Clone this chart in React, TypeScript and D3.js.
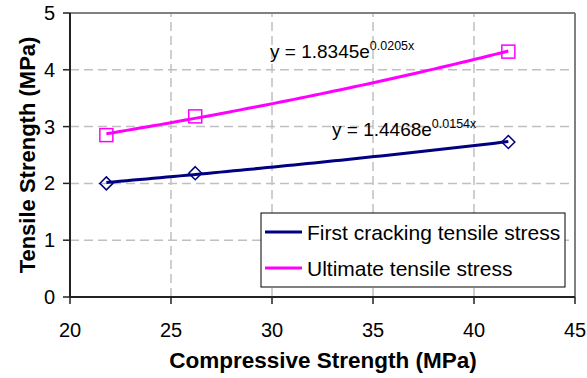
import React from "react";
import * as d3 from "d3";

const compressive = [21.8, 26.2, 41.7];
const firstCracking = [2.0, 2.18, 2.73];
const ultimate = [2.85, 3.18, 4.32];

const seriesNames = ["First cracking tensile stress", "Ultimate tensile stress"];
const seriesColors = ["#000080", "#ff00ff"];
const equations = [
  { base: "y = 1.4468e", exp: "0.0154x" },
  { base: "y = 1.8345e", exp: "0.0205x" },
];

const xTicks = [20, 25, 30, 35, 40, 45];
const yTicks = [0, 1, 2, 3, 4, 5];

const W = 587;
const H = 378;
const FONT = "Arial, 'Liberation Sans', sans-serif";

// exponential least squares fit, as a spreadsheet trendline does it
function expFit(xs: number[], ys: number[]) {
  const ly = ys.map((v) => Math.log(v));
  const mx = d3.mean(xs) as number;
  const my = d3.mean(ly) as number;
  let sxy = 0;
  let sxx = 0;
  xs.forEach((x, i) => {
    sxy += (x - mx) * (ly[i] - my);
    sxx += (x - mx) * (x - mx);
  });
  const b = sxy / sxx;
  const a = Math.exp(my - b * mx);
  return (x: number) => a * Math.exp(b * x);
}

export default function App() {
  const x = d3.scaleLinear().domain([20, 45]).range([70, 575]);
  const y = d3.scaleLinear().domain([0, 5]).range([297, 13]);

  const series = [firstCracking, ultimate];
  const [x0, x1] = d3.extent(compressive) as [number, number];
  const samples = d3.range(0, 61).map((i) => x0 + ((x1 - x0) * i) / 60);

  const line = d3
    .line<[number, number]>()
    .x((d) => x(d[0]))
    .y((d) => y(d[1]));

  const eqPos = [
    { x: 332, y: 136 },
    { x: 270, y: 58 },
  ];

  return (
    <svg
      width={W}
      height={H}
      style={{ position: "absolute", left: 0, top: 0, background: "#fff" }}
      fontFamily={FONT}
    >
      {/* gridlines */}
      {xTicks.slice(1, -1).map((t) => (
        <line key={"gx" + t} x1={x(t)} x2={x(t)} y1={y(0)} y2={y(5)} stroke="#c0c0c0" strokeWidth={1.5} strokeDasharray="9,5" />
      ))}
      {yTicks.slice(1, -1).map((t) => (
        <line key={"gy" + t} x1={x(20)} x2={x(45)} y1={y(t)} y2={y(t)} stroke="#c0c0c0" strokeWidth={1.5} strokeDasharray="9,5" />
      ))}

      {/* frame */}
      <line x1={x(20)} x2={x(45)} y1={y(5)} y2={y(5)} stroke="#808080" strokeWidth={2} />
      <line x1={x(45)} x2={x(45)} y1={y(5)} y2={y(0)} stroke="#808080" strokeWidth={2} />
      <line x1={x(20)} x2={x(20)} y1={y(5)} y2={y(0) + 1} stroke="#222" strokeWidth={2} />
      <line x1={x(20) - 1} x2={x(45)} y1={y(0)} y2={y(0)} stroke="#222" strokeWidth={2} />

      {/* ticks */}
      {xTicks.map((t) => (
        <g key={"xt" + t}>
          <line x1={x(t)} x2={x(t)} y1={y(0)} y2={y(0) + 7} stroke="#222" strokeWidth={1.5} />
          <text x={x(t)} y={337} textAnchor="middle" fontSize={20} fill="#000">
            {t}
          </text>
        </g>
      ))}
      {yTicks.map((t) => (
        <g key={"yt" + t}>
          <line x1={x(20) - 7} x2={x(20)} y1={y(t)} y2={y(t)} stroke="#222" strokeWidth={1.5} />
          <text x={55} y={y(t) + 7} textAnchor="end" fontSize={20} fill="#000">
            {t}
          </text>
        </g>
      ))}

      {/* axis titles */}
      <text x={323} y={368} textAnchor="middle" fontSize={22.5} fontWeight="bold" fill="#000">
        Compressive Strength (MPa)
      </text>
      <text
        transform={`translate(35,${(y(0) + y(5)) / 2}) rotate(-90)`}
        textAnchor="middle"
        fontSize={22}
        fontWeight="bold"
        fill="#000"
      >
        Tensile Strength (MPa)
      </text>

      {/* trendlines */}
      {series.map((vals, si) => {
        const f = expFit(compressive, vals);
        const pts = samples.map((s) => [s, f(s)] as [number, number]);
        return (
          <path key={"tl" + si} d={line(pts) || ""} fill="none" stroke={seriesColors[si]} strokeWidth={3} />
        );
      })}

      {/* markers */}
      {compressive.map((c, i) => {
        const cx = x(c);
        const cy = y(firstCracking[i]);
        return (
          <path
            key={"dm" + i}
            d={`M${cx},${cy - 6.5}L${cx + 6.5},${cy}L${cx},${cy + 6.5}L${cx - 6.5},${cy}Z`}
            fill="none"
            stroke={seriesColors[0]}
            strokeWidth={1.5}
          />
        );
      })}
      {compressive.map((c, i) => (
        <rect
          key={"sq" + i}
          x={x(c) - 6.5}
          y={y(ultimate[i]) - 6.5}
          width={13}
          height={13}
          fill="none"
          stroke={seriesColors[1]}
          strokeWidth={1.5}
        />
      ))}

      {/* equations */}
      {equations.map((eq, i) => (
        <text key={"eq" + i} x={eqPos[i].x} y={eqPos[i].y} fontSize={19} fill="#000">
          {eq.base}
          <tspan fontSize={12.5} dy={-8}>
            {eq.exp}
          </tspan>
        </text>
      ))}

      {/* legend */}
      <rect x={261} y={213} width={304} height={74} fill="#fff" stroke="#000" strokeWidth={1} />
      {seriesNames.map((name, i) => (
        <g key={"lg" + i}>
          <line x1={265} x2={302} y1={232 + i * 36} y2={232 + i * 36} stroke={seriesColors[i]} strokeWidth={3} />
          <text x={307} y={240 + i * 36} fontSize={21} fill="#000">
            {name}
          </text>
        </g>
      ))}
    </svg>
  );
}
